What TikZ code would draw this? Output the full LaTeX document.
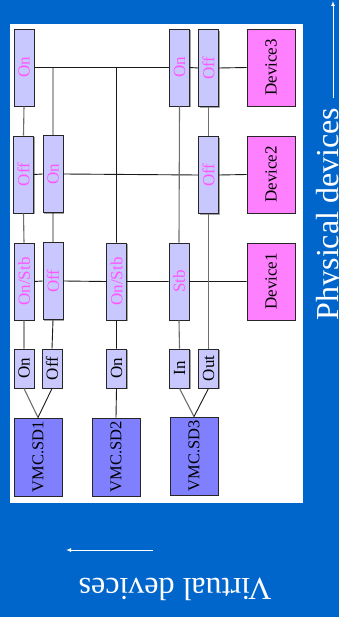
\documentclass[tikz,border=0pt]{standalone}
\usepackage{fontspec}
\setmainfont{Liberation Serif}
\usetikzlibrary{shadows,arrows.meta}
\definecolor{bgblue}{HTML}{0066CC}
\definecolor{stfill}{HTML}{C8C8FF}
\definecolor{devfill}{HTML}{FF80FF}
\definecolor{vmcfill}{HTML}{8080FF}
\definecolor{stmag}{HTML}{FF55FF}
\definecolor{linegray}{HTML}{6E6E6E}
\newcommand{\rt}[1]{\rotatebox{90}{#1}}
\tikzset{
  boxbase/.style={draw=black!85, line width=0.9pt, inner sep=0pt,
    drop shadow={shadow xshift=1.4pt, shadow yshift=-1.4pt, fill=black!45, opacity=0.8},
    font=\fontsize{17}{20}\selectfont},
  stbox/.style={boxbase, fill=stfill, minimum width=20pt, minimum height=77pt, text=stmag},
  vbox/.style={boxbase, fill=stfill, minimum width=20pt, minimum height=39pt, text=black},
  devbox/.style={boxbase, fill=devfill, minimum width=48pt, minimum height=77pt, text=black},
  vmcbox/.style={boxbase, fill=vmcfill, minimum width=48pt, minimum height=78pt, text=black,
    font=\fontsize{16.5}{20}\selectfont},
  blk/.style={draw=black!90, line width=0.9pt},
  gry/.style={draw=linegray, line width=1.1pt},
  bigtext/.style={text=white, font=\fontsize{32}{36}\selectfont, inner sep=0pt},
  warrow/.style={draw=white, line width=1pt, -{Latex[length=5pt,width=4pt]}}
}
\begin{document}
\begin{tikzpicture}[x=1pt,y=-1pt]
\useasboundingbox (0,0) rectangle (339,617);
\fill[bgblue] (0,0) rectangle (339,617);
\fill[white] (10,24) rectangle (303,503);
% row 1
\node[stbox] (a1) at (24,67.5) {\rt{On}};
\node[stbox] (a4) at (179.5,67.5) {\rt{On}};
\node[stbox] (a5) at (208.5,68) {\rt{Off}};
\node[devbox] (d3) at (271,67.5) {\rt{Device3}};
% row 2
\node[stbox] (b1) at (23.5,174.5) {\rt{Off}};
\node[stbox] (b2) at (53,174) {\rt{On}};
\node[stbox] (b5) at (208.5,175) {\rt{Off}};
\node[devbox] (d2) at (271,174.5) {\rt{Device2}};
% row 3
\node[stbox] (c1) at (24,281.5) {\rt{On/Stb}};
\node[stbox] (c2) at (53,281) {\rt{Off}};
\node[stbox] (c3) at (116.5,281.5) {\rt{On/Stb}};
\node[stbox] (c4) at (179,281.5) {\rt{Stb}};
\node[devbox] (d1) at (271,281.5) {\rt{Device1}};
% virtual states
\node[vbox] (v1) at (24,368.5) {\rt{On}};
\node[vbox] (v2) at (52,368.5) {\rt{Off}};
\node[vbox] (v3) at (116.5,368.5) {\rt{On}};
\node[vbox] (v4) at (179.5,368.5) {\rt{In}};
\node[vbox] (v5) at (208.5,368.5) {\rt{Out}};
% VMCs
\node[vmcbox] (m1) at (38,457) {\rt{VMC.SD1}};
\node[vmcbox] (m2) at (116,457) {\rt{VMC.SD2}};
\node[vmcbox] (m3) at (194,456) {\rt{VMC.SD3}};
% horizontal lines
\draw[blk] (a1.east) -- (a4.west) (a4.east) -- (a5.west) (a5.east) -- (d3.west);
\draw[blk] (b1.east) -- (b2.west) (b2.east) -- (b5.west) (b5.east) -- (d2.west);
\draw[blk] (c1.east) -- (c2.west) (c2.east) -- (c3.west) (c3.east) -- (c4.west) (c4.east) -- (d1.west);
% column 1
\draw[gry] (a1.south) -- (b1.north) (b1.south) -- (c1.north) (c1.south) -- (v1.north) (v1.south) -- (m1.north);
% column 2
\draw[blk] (b2.north |- a1.east) -- (b2.north) (b2.south) -- (c2.north) (c2.south) -- (v2.north) (v2.south) -- (m1.north);
% column 3
\draw[blk] (c3.north |- a1.east) -- (c3.north) (c3.south) -- (v3.north) (v3.south) -- (m2.north);
% column 4
\draw[gry] (a4.south) -- (c4.north) (c4.south) -- (v4.north) (v4.south) -- (m3.north);
% column 5
\draw[gry] (a5.south) -- (b5.north) (b5.south) -- (v5.north);
\draw[blk] (v5.south) -- (m3.north);
% side labels
\node[bigtext, rotate=90, anchor=base] (phys) at (338,214) {Physical devices};
\coordinate (pa) at (333,98);
\coordinate (pb) at (333,1);
\draw[warrow] (pa) -- (pb);
\node[bigtext, rotate=180, anchor=base] (virt) at (175,578.5) {Virtual devices};
\coordinate (va) at (153,550);
\coordinate (vb) at (66,550);
\draw[warrow] (va) -- (vb);
\end{tikzpicture}
\end{document}
